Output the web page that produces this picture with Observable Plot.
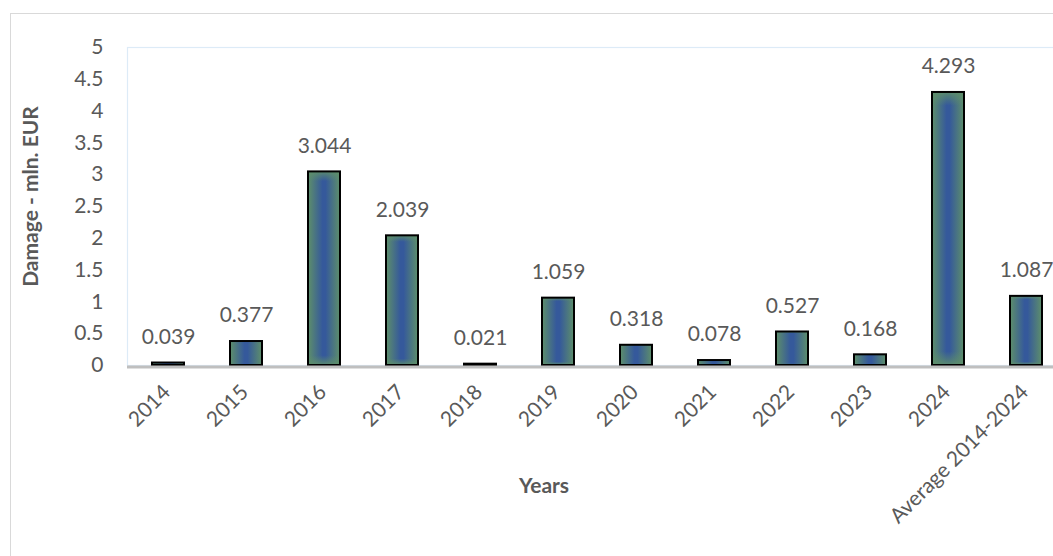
<!DOCTYPE html>
<html>
<head>
<meta charset="utf-8">
<script src="https://cdn.jsdelivr.net/npm/d3@7"></script>
<script src="https://cdn.jsdelivr.net/npm/@observablehq/plot@0.6"></script>
<style>
  html, body { margin: 0; padding: 0; background: #fff; overflow: hidden; }
  #wrap { position: relative; width: 1053px; height: 556px; overflow: hidden; }
  #border { position: absolute; left: 10px; top: 13px; width: 1200px; height: 800px; border: 1.5px solid #D9D9D9; box-sizing: border-box; }
  #chart { position: absolute; left: 0; top: 0; }
</style>
</head>
<body>
<div id="wrap"><div id="border"></div><div id="chart"></div></div>
<script>
const categories = ["2014","2015","2016","2017","2018","2019","2020","2021","2022","2023","2024","Average 2014-2024"];
const damage = [0.039, 0.377, 3.044, 2.039, 0.021, 1.059, 0.318, 0.078, 0.527, 0.168, 4.293, 1.087];
const yTicks = [0, 0.5, 1, 1.5, 2, 2.5, 3, 3.5, 4, 4.5, 5];
const yTitle = "Damage - mln. EUR";
const xTitle = "Years";

const data = categories.map((c, i) => ({cat: c, value: damage[i]}));
const textColor = "#595959";

const plot = Plot.plot({
  width: 1053,
  height: 556,
  marginLeft: 127,
  marginRight: -13,
  marginTop: 47,
  marginBottom: 191,
  style: {fontFamily: "Lato, sans-serif", fontSize: "21px", color: textColor, background: "transparent"},
  x: {domain: categories, paddingInner: 0.59, paddingOuter: 0.28, axis: null},
  y: {domain: [0, 5], ticks: yTicks, tickFormat: d => String(d), tickSize: 0, tickPadding: 24, label: null},
  marks: [
    Plot.frame({stroke: "#DDEBF7", strokeWidth: 1.2}),
    Plot.barY(data, {x: "cat", y: "value", fill: "url(#barGradH)"}),
    Plot.barY(data, {x: "cat", y: "value", fill: "url(#barGradV)"}),
    Plot.barY(data, {x: "cat", y: "value", fill: "none", stroke: "#000", strokeWidth: 2}),
    Plot.ruleY([0], {stroke: "#BFBFBF", strokeWidth: 3, dy: 1.5}),
    Plot.text(data, {x: "cat", y: "value", text: d => d3.format(".3f")(d.value), dy: -26, fill: textColor}),
    Plot.text(categories, {x: d => d, frameAnchor: "bottom", rotate: -45, textAnchor: "end", dx: 3, dy: 28, fill: textColor}),
    Plot.text([yTitle], {frameAnchor: "left", textAnchor: "middle", rotate: -90, dx: -96, dy: -10, fontWeight: "bold", fill: textColor}),
    Plot.text([xTitle], {frameAnchor: "bottom", textAnchor: "middle", dx: -53, dy: 127, fontWeight: "bold", fill: textColor})
  ]
});

const ns = "http://www.w3.org/2000/svg";
const defs = document.createElementNS(ns, "defs");
defs.innerHTML = `
  <linearGradient id="barGradH" x1="0" y1="0" x2="1" y2="0">
    <stop offset="0" stop-color="#5E8F6A"/>
    <stop offset="0.45" stop-color="#35599B"/>
    <stop offset="0.55" stop-color="#35599B"/>
    <stop offset="1" stop-color="#5E8F6A"/>
  </linearGradient>
  <linearGradient id="barGradV" x1="0" y1="0" x2="0" y2="1">
    <stop offset="0" stop-color="#5E8F6A" stop-opacity="0.9"/>
    <stop offset="0.05" stop-color="#5E8F6A" stop-opacity="0"/>
    <stop offset="0.95" stop-color="#5E8F6A" stop-opacity="0"/>
    <stop offset="1" stop-color="#5E8F6A" stop-opacity="0.9"/>
  </linearGradient>`;
plot.insertBefore(defs, plot.firstChild);
document.getElementById("chart").appendChild(plot);
</script>
</body>
</html>
